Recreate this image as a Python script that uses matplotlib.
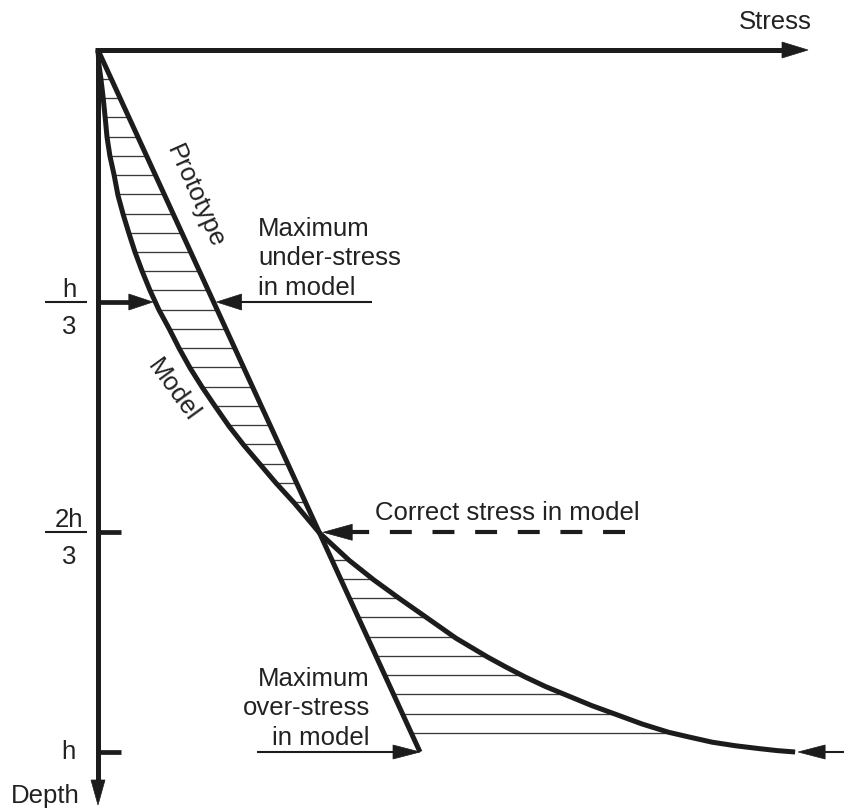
import numpy as np
import matplotlib
matplotlib.use("Agg")
import matplotlib.pyplot as plt
from matplotlib.patches import Polygon

plt.rcParams['font.family'] = ['Liberation Sans', 'DejaVu Sans']
plt.rcParams['lines.scale_dashes'] = False

# ---------------- data (normalised: depth h = 1, prototype stress at h = 1) -------------
proto_depth = [0.0, 1.0]
proto_stress = [0.0, 1.0]

model_depth = [0.0, 0.021, 0.041, 0.068, 0.095, 0.124, 0.151, 0.178, 0.207, 0.234,
               0.261, 0.288, 0.315, 0.343, 0.370, 0.397, 0.425, 0.453, 0.480, 0.507,
               0.536, 0.563, 0.590, 0.617, 0.645, 0.688, 0.727, 0.755, 0.782, 0.809,
               0.838, 0.865, 0.879, 0.893, 0.907, 0.920, 0.934, 0.947, 0.960, 0.972,
               0.979, 0.986, 0.991, 0.995, 0.998, 1.0]
model_stress = [0.0, 0.003, 0.009, 0.016, 0.022, 0.028, 0.037, 0.050, 0.062, 0.078,
                0.096, 0.115, 0.137, 0.162, 0.189, 0.221, 0.252, 0.286, 0.323, 0.363,
                0.407, 0.453, 0.503, 0.553, 0.609, 0.688, 0.780, 0.857, 0.938, 1.022,
                1.112, 1.211, 1.267, 1.326, 1.391, 1.460, 1.534, 1.612, 1.689, 1.773,
                1.839, 1.907, 1.978, 2.050, 2.109, 2.165]

tick_depths = [0.359, 0.687, 1.0]
tick_labels = [("h", "3"), ("2h", "3"), ("h", None)]

# ---------------- layout constants ----------------
W, H = 845, 810
OX, OY = 98, 50           # origin in pixels
SX, SY = 322.0, 702.0     # pixels per unit stress / depth
INK = '#1c1c1c'
TXT = '#222222'
FS = 18.5

fig = plt.figure(figsize=(W / 100, H / 100), dpi=100)
ax = fig.add_axes([0, 0, 1, 1])
ax.set_xlim(-OX / SX, (W - OX) / SX)
ax.set_ylim((H - OY) / SY, -OY / SY)
ax.axis('off')

px = lambda p: p / SX   # pixel length -> stress units
py = lambda p: p / SY   # pixel length -> depth units


def head(tip_x, tip_y, direction, length=25, half=8, color=INK):
    """Filled triangular arrow head; direction in ('r','l','d')."""
    if direction == 'r':
        pts = [(tip_x, tip_y), (tip_x - px(length), tip_y - py(half)), (tip_x - px(length), tip_y + py(half))]
    elif direction == 'l':
        pts = [(tip_x, tip_y), (tip_x + px(length), tip_y - py(half)), (tip_x + px(length), tip_y + py(half))]
    else:
        pts = [(tip_x, tip_y), (tip_x - px(half), tip_y - py(length)), (tip_x + px(half), tip_y - py(length))]
    ax.add_patch(Polygon(pts, closed=True, facecolor=color, edgecolor=color, lw=0.5, zorder=6))


md = np.array(model_depth)
ms = np.array(model_stress)
pdp = np.array(proto_depth)
pst = np.array(proto_stress)

# ---------------- hatching between curves ----------------
hatch_start, hatch_step = 0.0413, 0.02739
d = hatch_start
while d < 0.999:
    a = np.interp(d, md, ms)
    b = np.interp(d, pdp, pst)
    if abs(a - b) > px(8):
        ax.plot([min(a, b), max(a, b)], [d, d], color='#3a3a3a', lw=0.95, zorder=2,
                solid_capstyle='butt')
    d += hatch_step

# ---------------- curves ----------------
ax.plot(ms, md, color=INK, lw=3.6, zorder=4, solid_capstyle='butt', solid_joinstyle='round')
ax.plot(pst, pdp, color=INK, lw=3.6, zorder=4, solid_capstyle='butt')

# ---------------- axes with arrows ----------------
x_tip = (808 - OX) / SX
y_tip = (805 - OY) / SY
ax.plot([-px(2.5), x_tip - px(20)], [0, 0], color=INK, lw=3.6, solid_capstyle='butt', zorder=5)
head(x_tip, 0, 'r', length=26, half=8)
ax.plot([0, 0], [-py(2.5), y_tip - py(20)], color=INK, lw=3.6, solid_capstyle='butt', zorder=5)
head(0, y_tip, 'd', length=25, half=7)

ax.text((775 - OX) / SX, (22 - OY) / SY, "Stress", fontsize=FS, color=TXT, ha='center', va='center')
ax.text((45 - OX) / SX, (803 - OY) / SY, "Depth", fontsize=FS, color=TXT, ha='center', va='baseline')

# ---------------- depth ticks and fraction labels ----------------
tick_len = [0, 23, 23]
for dep, (num, den), tl in zip(tick_depths, tick_labels, tick_len):
    if tl:
        ax.plot([0, px(tl)], [dep, dep], color=INK, lw=3.4, solid_capstyle='butt', zorder=5)
    if den is None:
        ax.text(px(68 - OX), dep, num, fontsize=FS, color=TXT, ha='center', va='center')
    else:
        ax.plot([px(45 - OX), px(87 - OX)], [dep, dep], color=INK, lw=1.5, solid_capstyle='butt')
        ax.text(px(69 - OX), dep - py(5), num, fontsize=FS, color=TXT, ha='center', va='baseline')
        ax.text(px(69 - OX), dep + py(13), den, fontsize=FS, color=TXT, ha='center', va='top')

# ---------------- annotation arrows ----------------
d1, d2, d3 = tick_depths
# h/3 : arrow from axis to model, and from right to prototype
m1 = np.interp(d1, md, ms) - px(2.5)
ax.plot([0, m1 - px(20)], [d1, d1], color=INK, lw=3.4, solid_capstyle='butt', zorder=5)
head(m1, d1, 'r', length=24, half=8)
p1 = np.interp(d1, pdp, pst) + px(3)
ax.plot([p1 + px(20), px(372 - OX)], [d1, d1], color=INK, lw=1.5, solid_capstyle='butt')
head(p1, d1, 'l', length=25, half=8)

# 2h/3 : dashed arrow to crossing
c2 = np.interp(d2, pdp, pst) + px(4)
ax.plot([px(625 - OX), c2 + px(25)], [d2, d2], color=INK, lw=3.0, solid_capstyle='butt',
        linestyle=(0, (15.8, 14.9)))
head(c2, d2, 'l', length=29, half=8)

# h : arrow to prototype end and arrow to model end
pe = np.interp(d3, pdp, pst)
ax.plot([px(257 - OX), pe - px(20)], [d3, d3], color=INK, lw=1.5, solid_capstyle='butt')
head(pe, d3, 'r', length=27, half=7)
me = ms[-1] + px(3)
ax.plot([me + px(20), px(W - OX + 5)], [d3, d3], color=INK, lw=1.5, solid_capstyle='butt')
head(me, d3, 'l', length=27, half=7)

# ---------------- texts ----------------
ax.text(px(195 - OX), py(196 - OY), "Prototype", fontsize=FS, color=TXT, rotation=-66,
        rotation_mode='anchor', ha='center', va='center')
ax.text(px(173 - OX), py(390 - OY), "Model", fontsize=FS, color=TXT, rotation=-54,
        rotation_mode='anchor', ha='center', va='center')
ax.text(px(258 - OX), py(295 - OY), "Maximum\nunder-stress\nin model", fontsize=FS, color=TXT,
        ha='left', va='baseline', linespacing=1.3)
ax.text(px(375 - OX), py(520 - OY), "Correct stress in model", fontsize=FS, color=TXT,
        ha='left', va='baseline')
ax.text(px(370 - OX), py(745 - OY), "Maximum\nover-stress\nin model", fontsize=FS, color=TXT,
        ha='right', va='baseline', linespacing=1.3, multialignment='right')

fig.savefig("out.png", dpi=100)
